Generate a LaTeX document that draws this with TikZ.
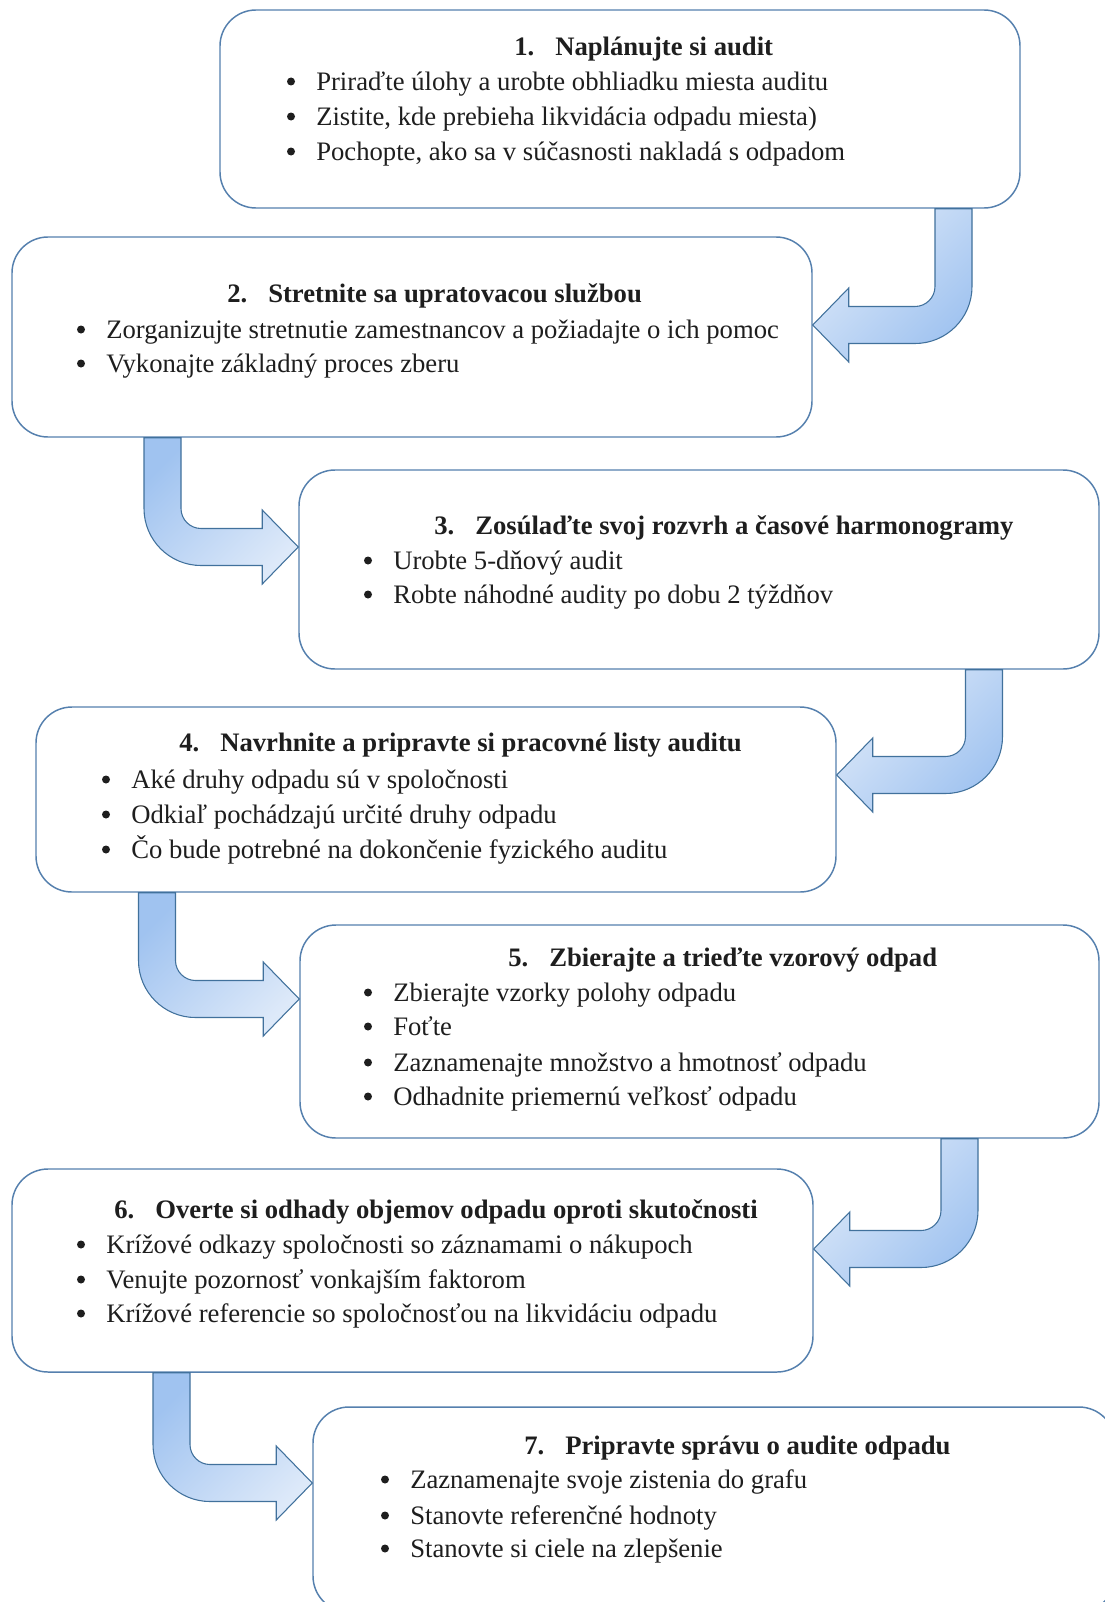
\documentclass[tikz,border=0pt]{standalone}
\usepackage{fontspec}
\setmainfont{Liberation Serif}
\usetikzlibrary{calc}

\definecolor{boxline}{HTML}{5580AE}
\definecolor{arrowline}{HTML}{41719C}
\definecolor{arrowdark}{HTML}{A0C3F0}
\definecolor{arrowlight}{HTML}{DDE9F9}
\definecolor{ink}{HTML}{1E1E1E}

\tikzset{
  stepbox/.style={draw=boxline, line width=1.1pt, rounded corners=27pt, rectangle, fill=white, inner sep=0pt},
  itemtext/.style={inner sep=0pt, text=ink, font=\fontsize{20pt}{24pt}\selectfont},
  headtext/.style={inner sep=0pt, text=ink, font=\fontsize{20pt}{24pt}\selectfont\bfseries},
  bulletdot/.style={circle, fill=ink, inner sep=0pt, minimum size=6pt},
  turnright/.style={draw=arrowline, line width=0.8pt, top color=arrowdark, bottom color=arrowlight, shading angle=45},
  turnleft/.style={draw=arrowline, line width=0.8pt, top color=arrowlight, bottom color=arrowdark, shading angle=45},
}

% heading line: name, x, baseline y, number, text
\newcommand\stephead[5]{%
  \node[headtext, anchor=base west] (#1) at (#2,{#3+1}) {\makebox[30.75pt][l]{#4}#5};}
% bullet line: name, text x, baseline y, text
\newcommand\stepitem[4]{%
  \node[bulletdot] (#1b) at ({#2-25},{#3+3-8.5}) {};
  \node[itemtext, anchor=base west] (#1) at (#2,{#3+3}) {#4};}
% bent block arrow: style, shaft top centre, tip, direction (1 right, -1 left)
\newcommand\bentarrow[4]{%
  \path[#1]
    ($(#2)+({-(#4)*18.5},0)$) -- ($(#2)+({(#4)*18.5},0)$)
    -- ($(#2 |- #3)+({(#4)*18.5},-38.5)$)
    .. controls ($(#2 |- #3)+({(#4)*18.5},-27.5)$) and ($(#2 |- #3)+({(#4)*27.5},-18.5)$) ..
    ($(#2 |- #3)+({(#4)*38.5},-18.5)$)
    -- ($(#3)+({-(#4)*36},-18.5)$)
    -- ($(#3)+({-(#4)*36},-37)$)
    -- (#3)
    -- ($(#3)+({-(#4)*36},37)$)
    -- ($(#3)+({-(#4)*36},18.5)$)
    -- ($(#2 |- #3)+({(#4)*38.5},18.5)$)
    .. controls ($(#2 |- #3)+({(#4)*7},18.5)$) and ($(#2 |- #3)+({-(#4)*18.5},-7)$) ..
    ($(#2 |- #3)+({-(#4)*18.5},-38.5)$)
    -- cycle;}

\begin{document}
\begin{tikzpicture}[x=0.75pt, y=-0.75pt]
  \useasboundingbox (0,0) rectangle (1105,1602);
  \clip (0,0) rectangle (1105,1602);
  \fill[white] (0,0) rectangle (1105,1602);

  % step boxes
  \node[stepbox, minimum width=600pt, minimum height=148.5pt] (b1) at (620,109) {};
  \node[stepbox, minimum width=600pt, minimum height=150pt] (b2) at (412,337) {};
  \node[stepbox, minimum width=600pt, minimum height=149.25pt] (b3) at (699,569.5) {};
  \node[stepbox, minimum width=600pt, minimum height=138.75pt] (b4) at (436,799.5) {};
  \node[stepbox, minimum width=599.25pt, minimum height=159.75pt] (b5) at (699.5,1031.5) {};
  \node[stepbox, minimum width=600.75pt, minimum height=152.25pt] (b6) at (412.5,1270.5) {};
  \node[stepbox, minimum width=601.5pt, minimum height=153.75pt] (b7) at (714,1509.5) {};

  % step 1
  \stephead{h1}{514}{55}{1.}{Naplánujte si audit}
  \stepitem{i11}{316}{87}{Priraďte úlohy a urobte obhliadku miesta auditu}
  \stepitem{i12}{316}{122}{Zistite, kde prebieha likvidácia odpadu miesta)}
  \stepitem{i13}{316}{157}{Pochopte, ako sa v súčasnosti nakladá s odpadom}

  % step 2
  \stephead{h2}{227}{301}{2.}{Stretnite sa upratovacou službou}
  \stepitem{i21}{106}{335}{Zorganizujte stretnutie zamestnancov a požiadajte o ich pomoc}
  \stepitem{i22}{106}{369}{Vykonajte základný proces zberu}

  % step 3
  \stephead{h3}{434}{533}{3.}{Zosúlaďte svoj rozvrh a časové harmonogramy}
  \stepitem{i31}{393}{566}{Urobte 5-dňový audit}
  \stepitem{i32}{393}{600}{Robte náhodné audity po dobu 2 týždňov}

  % step 4
  \stephead{h4}{179}{750}{4.}{Navrhnite a pripravte si pracovné listy auditu}
  \stepitem{i41}{131}{785}{Aké druhy odpadu sú v spoločnosti}
  \stepitem{i42}{131}{820}{Odkiaľ pochádzajú určité druhy odpadu}
  \stepitem{i43}{131}{855}{Čo bude potrebné na dokončenie fyzického auditu}

  % step 5
  \stephead{h5}{508}{965}{5.}{Zbierajte a trieďte vzorový odpad}
  \stepitem{i51}{393}{998}{Zbierajte vzorky polohy odpadu}
  \stepitem{i52}{393}{1032}{Foťte}
  \stepitem{i53}{393}{1068}{Zaznamenajte množstvo a hmotnosť odpadu}
  \stepitem{i54}{393}{1102}{Odhadnite priemernú veľkosť odpadu}

  % step 6
  \stephead{h6}{114}{1217}{6.}{Overte si odhady objemov odpadu oproti skutočnosti}
  \stepitem{i61}{106}{1250}{Krížové odkazy spoločnosti so záznamami o nákupoch}
  \stepitem{i62}{106}{1285}{Venujte pozornosť vonkajším faktorom}
  \stepitem{i63}{106}{1319}{Krížové referencie so spoločnosťou na likvidáciu odpadu}

  % step 7
  \stephead{h7}{524}{1453}{7.}{Pripravte správu o audite odpadu}
  \stepitem{i71}{410}{1485}{Zaznamenajte svoje zistenia do grafu}
  \stepitem{i72}{410}{1521}{Stanovte referenčné hodnoty}
  \stepitem{i73}{410}{1554}{Stanovte si ciele na zlepšenie}

  % arrow anchors: shaft tops on the box bottoms, tips on the next box side
  \coordinate (a12s) at (953.5,0 |- b1.south);  \coordinate (a12t) at (b2.east |- 0,325);
  \coordinate (a23s) at (162.5,0 |- b2.south);  \coordinate (a23t) at (b3.west |- 0,547);
  \coordinate (a34s) at (984,0 |- b3.south);    \coordinate (a34t) at (b4.east |- 0,775);
  \coordinate (a45s) at (157,0 |- b4.south);    \coordinate (a45t) at (b5.west |- 0,999);
  \coordinate (a56s) at (959.5,0 |- b5.south);  \coordinate (a56t) at (b6.east |- 0,1249);
  \coordinate (a67s) at (171.5,0 |- b6.south);  \coordinate (a67t) at (b7.west |- 0,1483);

  \bentarrow{turnleft}{a12s}{a12t}{-1}
  \bentarrow{turnright}{a23s}{a23t}{1}
  \bentarrow{turnleft}{a34s}{a34t}{-1}
  \bentarrow{turnright}{a45s}{a45t}{1}
  \bentarrow{turnleft}{a56s}{a56t}{-1}
  \bentarrow{turnright}{a67s}{a67t}{1}
\end{tikzpicture}
\end{document}
